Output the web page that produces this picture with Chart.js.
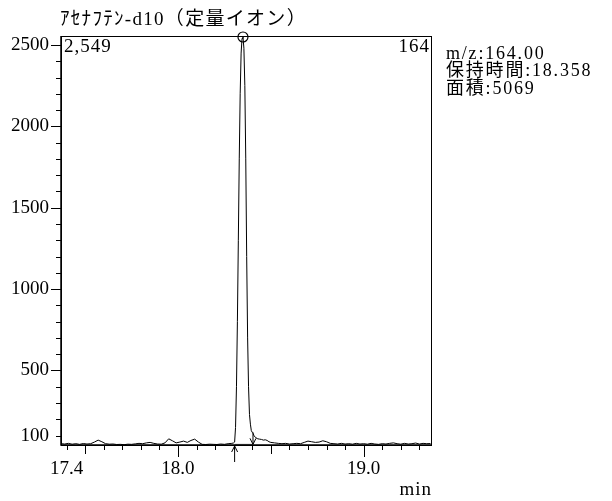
<!DOCTYPE html>
<html>
<head>
<meta charset="utf-8">
<script src="https://cdn.jsdelivr.net/npm/chart.js@4/dist/chart.umd.min.js"></script>
<style>
  html, body { margin: 0; padding: 0; background: #fff; }
  canvas { display: block; }
</style>
</head>
<body>
<canvas id="chromChart" width="612" height="501"></canvas>
<script>
const retentionTimes = [
  17.37, 17.39, 17.41, 17.43, 17.45, 17.47, 17.49, 17.51, 17.53, 17.55,
  17.57, 17.59, 17.61, 17.63, 17.65, 17.67, 17.69, 17.71, 17.73, 17.75,
  17.77, 17.79, 17.81, 17.83, 17.85, 17.87, 17.89, 17.91, 17.93, 17.95,
  17.97, 17.99, 18.01, 18.03, 18.05, 18.07, 18.09, 18.11, 18.13, 18.15,
  18.17, 18.19, 18.21, 18.23, 18.25, 18.27, 18.29,
  18.30, 18.305, 18.31, 18.315, 18.32, 18.325, 18.33, 18.335, 18.34, 18.345,
  18.35, 18.355, 18.36, 18.365, 18.37, 18.375, 18.38, 18.385, 18.39, 18.395,
  18.40, 18.405, 18.41, 18.42, 18.43, 18.44, 18.45, 18.46, 18.47, 18.48,
  18.49, 18.50,
  18.52, 18.54, 18.56, 18.58, 18.60, 18.62, 18.64, 18.66, 18.68, 18.70,
  18.72, 18.74, 18.76, 18.78, 18.80, 18.82, 18.84, 18.86, 18.88, 18.90,
  18.92, 18.94, 18.96, 18.98, 19.00, 19.02, 19.04, 19.06, 19.08, 19.10,
  19.12, 19.14, 19.16, 19.18, 19.20, 19.22, 19.24, 19.26, 19.28, 19.30,
  19.32, 19.34, 19.36
];
const intensities = [
  50, 48, 52, 47, 50, 46, 51, 48, 50, 60,
  72, 62, 50, 47, 48, 45, 46, 44, 47, 46,
  49, 52, 50, 55, 58, 52, 48, 47, 55, 80,
  68, 55, 60, 66, 58, 70, 78, 60, 46, 45,
  47, 46, 45, 48, 46, 50, 52,
  55, 60, 150, 400, 800, 1300, 1800, 2200, 2450, 2540,
  2549, 2480, 2250, 1800, 1200, 700, 400, 230, 170, 130,
  120, 112, 98, 86, 80, 78, 76, 72, 74, 70,
  62, 58,
  55, 52, 50, 52, 48, 50, 52, 50, 58, 66,
  62, 58, 60, 68, 62, 52, 50, 48, 52, 48,
  50, 47, 52, 48, 50, 47, 52, 48, 46, 50,
  48, 52, 55, 50, 47, 52, 48, 50, 54, 48,
  52, 50, 51
];

const peakTime = 18.35;
const peakHeight = 2549;
const peakStart = 18.305;
const peakEnd = 18.404;
const peakEndLevel = 120;
const baselineLevel = 46;

const xLabelValues = [17.4, 18.0, 19.0];
const yLabelValues = [100, 500, 1000, 1500, 2000, 2500];

const titleText = 'ｱｾﾅﾌﾃﾝ-d10（定量イオン）';
const infoLines = ['m/z:164.00', '保持時間:18.358', '面積:5069'];
const FONT = "'Liberation Serif', 'Noto Sans CJK JP', serif";

const traceData = retentionTimes.map((t, i) => ({ x: t, y: intensities[i] }));

// ticks, moldura, setas e textos
const decoracao = {
  id: 'decoracao',
  afterDatasetsDraw(chart) {
    const { ctx, chartArea: a, scales: { x, y } } = chart;
    ctx.save();
    ctx.strokeStyle = '#000';
    ctx.lineWidth = 1;

    // moldura
    ctx.strokeRect(a.left + 0.5, a.top + 0.5, a.right - a.left - 1, a.bottom - a.top);
    ctx.lineWidth = 1.5;
    ctx.beginPath();
    ctx.moveTo(a.left, a.top); ctx.lineTo(a.left, a.bottom);
    ctx.lineTo(a.right, a.bottom);
    ctx.stroke();
    ctx.lineWidth = 1;

    // ticks do eixo x
    ctx.beginPath();
    x.ticks.forEach(t => {
      const px = Math.round(x.getPixelForValue(t.value)) + 0.5;
      const tenth = Math.round(t.value * 10);
      let len = 5;
      if (tenth % 10 === 0) len = 12;
      else if (tenth % 5 === 0) len = 9;
      ctx.moveTo(px, a.bottom);
      ctx.lineTo(px, a.bottom + len);
    });
    // ticks do eixo y
    y.ticks.forEach(t => {
      const py = Math.round(y.getPixelForValue(t.value)) + 0.5;
      const len = t.value % 500 === 0 ? 10 : 5;
      ctx.moveTo(a.left, py);
      ctx.lineTo(a.left - len, py);
    });
    ctx.stroke();

    // setas de início / fim do pico
    const xs = x.getPixelForValue(peakStart);
    ctx.beginPath();
    ctx.moveTo(xs, a.bottom + 1); ctx.lineTo(xs, a.bottom + 17);
    ctx.moveTo(xs - 3, a.bottom + 7); ctx.lineTo(xs, a.bottom + 1); ctx.lineTo(xs + 3, a.bottom + 7);
    const xe = x.getPixelForValue(peakEnd);
    const ye = y.getPixelForValue(peakEndLevel);
    const yb = y.getPixelForValue(baselineLevel);
    ctx.moveTo(xe, ye); ctx.lineTo(xe, yb);
    ctx.moveTo(xe - 3, yb - 6); ctx.lineTo(xe, yb); ctx.lineTo(xe + 3, yb - 6);
    ctx.stroke();

    // textos
    ctx.fillStyle = '#000';
    ctx.textBaseline = 'middle';
    ctx.textAlign = 'left';
    ctx.font = '19px ' + FONT;
    ctx.letterSpacing = '1.3px';
    ctx.fillText(titleText, 60, 20);
    ctx.letterSpacing = '1px';
    ctx.fillText(peakHeight.toLocaleString('en-US'), a.left + 3, 47);
    ctx.textAlign = 'right';
    ctx.fillText('164', a.right - 2, 47);
    ctx.fillText('min', a.right, 490);
    ctx.textAlign = 'left';
    ctx.font = '18px ' + FONT;
    ctx.letterSpacing = '1.8px';
    infoLines.forEach((s, i) => ctx.fillText(s, 446, 54 + i * 17.5));
    ctx.restore();
  }
};

new Chart(document.getElementById('chromChart').getContext('2d'), {
  type: 'line',
  data: {
    datasets: [
      {
        data: traceData,
        borderColor: '#000',
        borderWidth: 1,
        pointRadius: 0,
        tension: 0
      },
      {
        data: [{ x: peakStart, y: baselineLevel }, { x: peakEnd, y: baselineLevel }],
        borderColor: '#808080',
        borderWidth: 1,
        pointRadius: 0
      },
      {
        type: 'scatter',
        data: [{ x: peakTime, y: peakHeight }],
        pointRadius: 5,
        pointBorderColor: '#000',
        pointBackgroundColor: 'rgba(0,0,0,0)',
        pointBorderWidth: 1.2,
        clip: false
      }
    ]
  },
  options: {
    responsive: false,
    animation: false,
    events: [],
    layout: { padding: { top: 36, right: 180, left: 0, bottom: 0 } },
    plugins: { legend: { display: false }, tooltip: { enabled: false } },
    scales: {
      x: {
        type: 'linear',
        min: 17.37,
        max: 19.368,
        grid: { display: false, drawTicks: false },
        border: { display: false },
        afterBuildTicks: (scale) => {
          const ticks = [];
          for (let k = 174; k <= 193; k++) ticks.push({ value: k / 10 });
          scale.ticks = ticks;
        },
        afterFit: (scale) => { scale.height = 56; },
        ticks: {
          autoSkip: false,
          maxRotation: 0,
          padding: 13,
          color: '#000',
          font: { family: FONT, size: 19 },
          callback: (v) => xLabelValues.some(l => Math.abs(l - v) < 1e-6) ? v.toFixed(1) : ''
        }
      },
      y: {
        min: 42,
        max: 2555,
        grid: { display: false, drawTicks: false },
        border: { display: false },
        afterBuildTicks: (scale) => {
          const ticks = [];
          for (let v = 100; v <= 2500; v += 100) ticks.push({ value: v });
          scale.ticks = ticks;
        },
        afterFit: (scale) => { scale.width = 61; },
        ticks: {
          autoSkip: false,
          padding: 12,
          color: '#000',
          font: { family: FONT, size: 19 },
          callback: (v) => yLabelValues.includes(v) ? String(v) : ''
        }
      }
    }
  },
  plugins: [decoracao]
});
</script>
</body>
</html>
